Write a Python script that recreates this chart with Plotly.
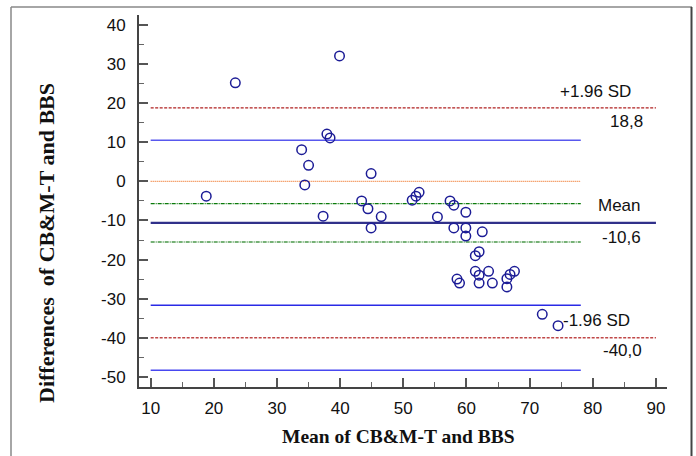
import plotly.graph_objects as go

# ---- data ----
mean_vals = [18.8, 23.4, 39.9, 37.9, 38.4, 33.9, 35.0, 34.4, 44.9, 43.4, 44.4, 37.3, 46.5, 44.9,
             51.4, 52.0, 52.5, 55.4, 57.4, 58.0, 59.9, 58.0, 59.9, 59.9, 62.5, 62.0, 61.4, 58.5,
             58.9, 61.4, 62.0, 62.0, 63.5, 64.1, 66.4, 66.4, 66.9, 67.6, 72.0, 74.5]
diff_vals = [-3.8, 25.2, 32.1, 12.1, 11.1, 8.1, 4.1, -0.9, 2.0, -5.0, -7.0, -8.9, -9.0, -11.9,
             -4.8, -3.8, -2.8, -9.1, -5.0, -6.1, -7.9, -11.9, -11.9, -14.0, -12.9, -18.0, -19.0, -25.0,
             -26.0, -23.0, -24.0, -26.0, -23.0, -26.0, -24.9, -27.0, -23.8, -23.0, -34.0, -36.9]

mean_diff = -10.6
upper_loa = 18.8
lower_loa = -40.0
mean_ci = [-5.7, -15.5]
loa_ci = [10.5, -31.7, -48.3]
zero_level = 0
line_start = 10
long_end = 90
short_end = 78.1

x_ticks = [10, 20, 30, 40, 50, 60, 70, 80, 90]
y_ticks = [40, 30, 20, 10, 0, -10, -20, -30, -40, -50]

fig = go.Figure()

def hline(y, x1, color, width, dash):
    fig.add_trace(go.Scatter(x=[line_start, x1], y=[y, y], mode="lines",
                             line=dict(color=color, width=width, dash=dash),
                             hoverinfo="skip", showlegend=False))

# CI lines of limits of agreement (blue)
hline(loa_ci[0], short_end, "#5858ee", 1.5, "solid")
hline(loa_ci[1], short_end, "#2a2ae6", 1.5, "solid")
hline(loa_ci[2], short_end, "#4848f0", 1.5, "solid")
# zero line
hline(zero_level, short_end, "#f07a30", 1.2, "1px,1px")
# mean CI (green dash-dot)
hline(mean_ci[0], short_end, "#0a7a0a", 1.2, "4px,1px,1px,1px")
hline(mean_ci[1], short_end, "#4a984a", 1.4, "4px,1px,1px,1px")
# limits of agreement (red dashed)
hline(upper_loa, long_end, "#b02020", 1.3, "3px,1.5px")
hline(lower_loa, long_end, "#c04848", 1.3, "3px,1.5px")
# mean
hline(mean_diff, long_end, "#30308a", 2.2, "solid")

fig.add_trace(go.Scatter(x=mean_vals, y=diff_vals, mode="markers",
                         marker=dict(symbol="circle-open", size=9.5, color="#1c1c96",
                                     line=dict(width=1.5, color="#1c1c96")),
                         showlegend=False))

lab_font = dict(family="Liberation Sans, Arial, sans-serif", size=17, color="#111111")
annots = [
    ("+1.96 SD", 80.35, 23.1),
    ("18,8", 85.4, 15.2),
    ("Mean", 84.3, -6.1),
    ("-10,6", 84.5, -14.3),
    ("-1.96 SD", 80.6, -35.5),
    ("-40,0", 84.7, -43.2),
]
for text, ax, ay in annots:
    fig.add_annotation(x=ax, y=ay, text=text, showarrow=False, font=lab_font,
                       xanchor="center", yanchor="middle")

axis_common = dict(showgrid=False, zeroline=False, showline=True, linecolor="#444444",
                   linewidth=2, ticks="inside", ticklen=9, tickwidth=2, tickcolor="#555555",
                   tickfont=dict(family="Liberation Sans, Arial, sans-serif", size=17, color="#111111"),
                   mirror=False)

fig.update_xaxes(range=[8.15, 91.75], tickvals=x_ticks, ticktext=[str(v) for v in x_ticks],
                 minor=dict(ticks="inside", ticklen=5, tickwidth=1, tickcolor="#666666", dtick=5, tick0=0),
                 ticklabelstandoff=5,
                 **axis_common)
fig.update_yaxes(range=[-52.6, 42.56], tickvals=y_ticks, ticktext=[str(v) for v in y_ticks],
                 minor=dict(ticks="inside", ticklen=5, tickwidth=1, tickcolor="#666666", dtick=5, tick0=0),
                 ticklabelstandoff=8,
                 **axis_common)

# pixel -> paper helpers
L, R, T, B = 139, 667, 15, 387
def px(x):
    return (x - L) / (R - L)
def py(y):
    return (B - y) / (B - T)

title_font_x = dict(family="Liberation Serif, Times New Roman, serif", size=19.5, color="#111111")
title_font_y = dict(family="Liberation Serif, Times New Roman, serif", size=22, color="#111111")
fig.add_annotation(xref="paper", yref="paper", x=px(398), y=py(437),
                   text="<b>Mean of CB&amp;M-T and BBS</b>", showarrow=False,
                   font=title_font_x, xanchor="center", yanchor="middle")
fig.add_annotation(xref="paper", yref="paper", x=px(46), y=py(243),
                   text="<b>Differences&nbsp; of CB&amp;M-T and BBS</b>", showarrow=False,
                   textangle=-90, font=title_font_y, xanchor="center", yanchor="middle")

# outer frame
fig.add_shape(type="line", xref="paper", yref="paper", x0=px(11), x1=px(11), y0=py(7), y1=py(470),
              line=dict(color="#888888", width=1.5))
fig.add_shape(type="line", xref="paper", yref="paper", x0=px(11), x1=px(692), y0=py(7), y1=py(7),
              line=dict(color="#888888", width=1.5))
fig.add_shape(type="line", xref="paper", yref="paper", x0=px(691.5), x1=px(691.5), y0=py(7), y1=py(470),
              line=dict(color="#444444", width=2))

fig.update_layout(width=696, height=456, plot_bgcolor="white", paper_bgcolor="white",
                  margin=dict(l=L, r=696 - R, t=T, b=456 - B), showlegend=False)

fig.write_html("out.html", config={"displayModeBar": False},
               post_script="document.body.style.margin='0px';")
